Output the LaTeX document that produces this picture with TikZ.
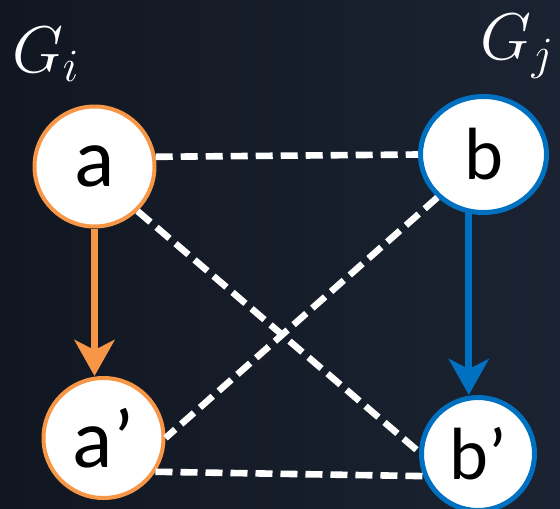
\RequirePackage{fix-cm}
\documentclass[tikz,border=0pt]{standalone}
\usepackage{fontspec}
\setmainfont{Carlito}
\usetikzlibrary{arrows.meta,shapes.geometric}
\definecolor{gorange}{RGB}{247,150,70}
\definecolor{gblue}{RGB}{0,112,192}
\definecolor{bgleft}{RGB}{17,23,33}
\definecolor{bgright}{RGB}{27,35,50}
\begin{document}
\begin{tikzpicture}[x=0.5pt,y=-0.5pt,
  every node/.style={circle,draw,fill=white,line width=2pt,inner sep=0pt,minimum size=60pt,font=\fontsize{42}{46}\selectfont},
  link/.style={white,line width=3.3pt,dash pattern=on 8.5pt off 4pt},
  move/.style={line width=3.5pt,-{Stealth[length=18pt,width=20pt,inset=5pt]}}]
\useasboundingbox (0,0) rectangle (560,508);
\shade[left color=bgleft,right color=bgright] (0,0) rectangle (560,508);
\node[draw=gorange] (a) at (94.5,166.5) {a};
\node[draw=gorange] (ap) at (103.5,438) {a’};
\node[ellipse,draw=gblue,line width=2.5pt,minimum width=63pt,minimum height=58pt,font=\fontsize{37}{40}\selectfont] (b) at (483.5,154.5) {b};
\node[draw=gblue,line width=2.5pt,minimum size=56.5pt,font=\fontsize{37}{40}\selectfont] (bp) at (478,454) {b’};
\draw[link] (a.9) -- (b.west);
\draw[link] (a.-46) -- (bp.178);
\draw[link] (b.223) -- (ap.east);
\draw[link] (ap.-33) -- (bp.-158);
\draw[move,gorange] (a.south) -- (a.south |- ap.north);
\draw[move,gblue] (b.256) -- (b.256 |- bp.north);
\node[rectangle,draw=none,fill=none,minimum size=0pt,anchor=base west,text=white,font=\fontsize{33}{38}\selectfont] (gi) at (10,72) {$G_i$};
\node[rectangle,draw=none,fill=none,minimum size=0pt,anchor=base east,text=white,font=\fontsize{33}{38}\selectfont] (gj) at (556,60) {$G_j$};
\end{tikzpicture}
\end{document}
